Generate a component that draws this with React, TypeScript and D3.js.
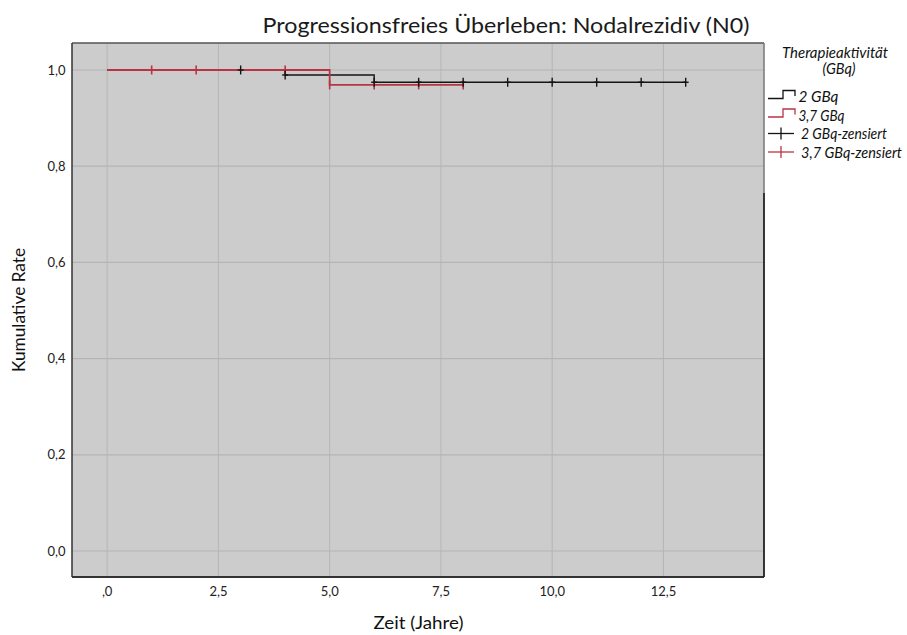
import React from 'react';
import * as d3 from 'd3';

const xTicks = [0, 2.5, 5, 7.5, 10, 12.5];
const xTickLabels = [',0', '2,5', '5,0', '7,5', '10,0', '12,5'];
const yTicks = [0, 0.2, 0.4, 0.6, 0.8, 1.0];
const yTickLabels = ['0,0', '0,2', '0,4', '0,6', '0,8', '1,0'];

// 2 GBq
const s2Times = [0, 4, 6, 13];
const s2Values = [1.0, 0.9896, 0.9745, 0.9745];
const s2Censor = [3, 4, 6, 7, 8, 9, 10, 11, 12, 13];

// 3,7 GBq
const s37Times = [0, 5, 8];
const s37Values = [1.0, 0.969, 0.969];
const s37Censor = [1, 2, 4, 5, 6, 7, 8];

const legendTitle = ['Therapieaktivität', '(GBq)'];
const legendLabels = ['2 GBq', '3,7 GBq', '2 GBq-zensiert', '3,7 GBq-zensiert'];

const BLACK = '#141414';
const RED = '#b83445';
const FONT = 'Lato, "Open Sans", sans-serif';

const W = 907;
const H = 635;
const L = 72, R = 764, T = 43, B = 577;

function valueAt(times: number[], values: number[], t: number) {
  let v = values[0];
  for (let i = 0; i < times.length; i++) if (times[i] <= t) v = values[i];
  return v;
}

export default function App() {
  const x = d3.scaleLinear().domain([-0.79, 14.76]).range([L, R]);
  const y = d3.scaleLinear().domain([-0.0541, 1.0561]).range([B, T]);
  const line = d3
    .line<[number, number]>()
    .x((d) => x(d[0]))
    .y((d) => y(d[1]))
    .curve(d3.curveStepAfter);

  const p2 = line(s2Times.map((t, i) => [t, s2Values[i]] as [number, number])) || '';
  const p37 = line(s37Times.map((t, i) => [t, s37Values[i]] as [number, number])) || '';

  const legendBase = [102, 120.5, 139, 157.5];
  const legendWidths = [40, 46, 86, 101];

  return (
    <svg
      width={W}
      height={H}
      style={{ position: 'absolute', left: 0, top: 0, background: '#fff' }}
      fontFamily={FONT}
    >
      <rect x={0} y={0} width={W} height={H} fill="#fff" />
      <text x={506} y={33} textAnchor="middle" fontSize={22} fill="#1a1a1a" textLength={487} lengthAdjust="spacingAndGlyphs">
        Progressionsfreies Überleben: Nodalrezidiv (N0)
      </text>

      <rect x={L} y={T} width={R - L} height={B - T} fill="#cccccc" />
      {xTicks.map((t) => (
        <line key={'gx' + t} x1={x(t)} x2={x(t)} y1={T} y2={B} stroke="#b6b6b6" strokeWidth={1} />
      ))}
      {yTicks.map((t) => (
        <line key={'gy' + t} x1={L} x2={R} y1={y(t)} y2={y(t)} stroke="#b4b4b4" strokeWidth={1.2} />
      ))}

      <path d={p2} fill="none" stroke={BLACK} strokeWidth={1.4} />
      <path d={p37} fill="none" stroke={RED} strokeWidth={1.8} />
      {s37Censor.map((t) => (
        <line key={'c37' + t} x1={x(t)} x2={x(t)} y1={y(valueAt(s37Times, s37Values, t)) - 4.5} y2={y(valueAt(s37Times, s37Values, t)) + 4.5} stroke={RED} strokeWidth={1.6} />
      ))}
      {s2Censor.map((t) => (
        <g key={'c2' + t}>
          <line x1={x(t)} x2={x(t)} y1={y(valueAt(s2Times, s2Values, t)) - 4.5} y2={y(valueAt(s2Times, s2Values, t)) + 4.5} stroke={BLACK} strokeWidth={1.4} />
          <line x1={x(t) - 3} x2={x(t) + 3} y1={y(valueAt(s2Times, s2Values, t))} y2={y(valueAt(s2Times, s2Values, t))} stroke={BLACK} strokeWidth={1.4} />
        </g>
      ))}

      {/* frame */}
      <line x1={L} x2={R} y1={T} y2={T} stroke="#555" strokeWidth={1.5} />
      <line x1={L} x2={L} y1={T} y2={B} stroke="#333" strokeWidth={1.5} />
      <line x1={L} x2={R} y1={B} y2={B} stroke="#333" strokeWidth={1.8} />
      <line x1={R} x2={R} y1={T} y2={193} stroke="#777" strokeWidth={1.5} />
      <line x1={R} x2={R} y1={193} y2={B} stroke="#222" strokeWidth={1.8} />

      {yTicks.map((t, i) => (
        <text key={'yl' + t} x={65.5} y={y(t) + 4.6} textAnchor="end" fontSize={13} fill="#222">
          {yTickLabels[i]}
        </text>
      ))}
      {xTicks.map((t, i) => (
        <text key={'xl' + t} x={x(t)} y={596} textAnchor="middle" fontSize={13} fill="#222">
          {xTickLabels[i]}
        </text>
      ))}

      <text x={418.5} y={629} textAnchor="middle" fontSize={17} fill="#111" textLength={90} lengthAdjust="spacingAndGlyphs">
        Zeit (Jahre)
      </text>
      <text transform="translate(25,310) rotate(-90)" textAnchor="middle" fontSize={17.5} fill="#111" textLength={124} lengthAdjust="spacingAndGlyphs">
        Kumulative Rate
      </text>

      {/* legend */}
      <text x={835} y={58} textAnchor="middle" fontSize={14.5} fontStyle="italic" fill="#111" textLength={106} lengthAdjust="spacingAndGlyphs">
        {legendTitle[0]}
      </text>
      <text x={839} y={73.5} textAnchor="middle" fontSize={14.5} fontStyle="italic" fill="#111">
        {legendTitle[1]}
      </text>
      {legendLabels.map((lab, i) => {
        const b = legendBase[i];
        const color = i % 2 === 0 ? BLACK : RED;
        const isStep = i < 2;
        return (
          <g key={lab}>
            {isStep ? (
              <path d={`M768,${b - 3.5}H783V${b - 11.5}H795V${b - 6}`} fill="none" stroke={color} strokeWidth={1.3} />
            ) : (
              <g>
                <line x1={768} x2={794} y1={b - 5.5} y2={b - 5.5} stroke={color} strokeWidth={1.3} />
                <line x1={781} x2={781} y1={b - 11.5} y2={b + 0.5} stroke={color} strokeWidth={1.3} />
              </g>
            )}
            <text x={isStep ? 798.5 : 801} y={b} fontSize={14.5} fontStyle="italic" fill="#111" textLength={legendWidths[i]} lengthAdjust="spacingAndGlyphs">
              {lab}
            </text>
          </g>
        );
      })}
    </svg>
  );
}
